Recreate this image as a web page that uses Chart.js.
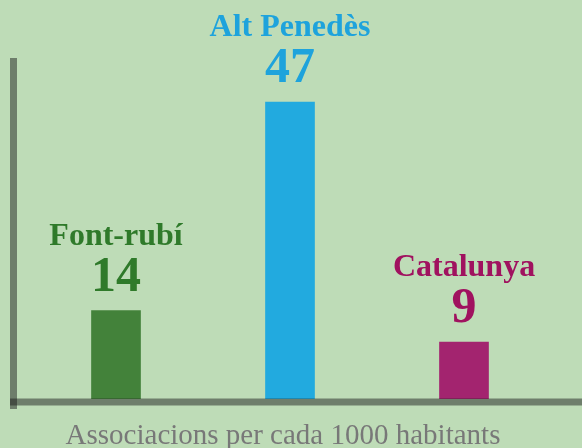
<!DOCTYPE html>
<html>
<head>
<meta charset="utf-8">
<title>Associacions per cada 1000 habitants</title>
<script src="https://cdn.jsdelivr.net/npm/chart.js@4/dist/chart.umd.min.js"></script>
<style>
  html, body { margin: 0; padding: 0; background: #bedcb7; overflow: hidden; }
  canvas { display: block; }
</style>
</head>
<body>
<canvas id="chart" width="582" height="448"></canvas>
<script>
// Chart data
const categories = ['Font-rubí', 'Alt Penedès', 'Catalunya'];
const values = [14, 47, 9];
const barColors = ['#43823a', '#22aadf', '#a3246f'];
const labelColors = ['#2f7a2a', '#1ea3dc', '#a0125f'];
const axisTitle = 'Associacions per cada 1000 habitants';

const serif = "'Liberation Serif', 'DejaVu Serif', serif";

// Thick translucent axis lines
const axisLines = {
  id: 'axisLines',
  afterDatasetsDraw(chart) {
    const { ctx, chartArea } = chart;
    const zeroY = chart.scales.y.getPixelForValue(0);
    const axisX = chartArea.left - 15.5;
    ctx.save();
    ctx.strokeStyle = 'rgba(22, 22, 22, 0.47)';
    ctx.lineWidth = 7;
    ctx.beginPath();
    ctx.moveTo(axisX, chartArea.top);
    ctx.lineTo(axisX, zeroY + 10);
    ctx.stroke();
    ctx.beginPath();
    ctx.moveTo(axisX - 3.5, zeroY + 3);
    ctx.lineTo(chart.width, zeroY + 3);
    ctx.stroke();
    ctx.restore();
  }
};

// Name + value above every bar, and the caption below
const barLabels = {
  id: 'barLabels',
  afterDraw(chart) {
    const { ctx } = chart;
    const meta = chart.getDatasetMeta(0);
    ctx.save();
    ctx.textAlign = 'center';
    ctx.textBaseline = 'alphabetic';
    meta.data.forEach((bar, i) => {
      const numY = bar.y - 20;
      ctx.fillStyle = labelColors[i];
      ctx.font = 'bold 50px ' + serif;
      ctx.fillText(String(values[i]), bar.x, numY);
      ctx.font = 'bold 32px ' + serif;
      ctx.fillText(categories[i], bar.x, numY - 46);
    });
    ctx.fillStyle = '#787878';
    ctx.font = '29px ' + serif;
    ctx.fillText(axisTitle, 283, 444);
    ctx.restore();
  }
};

new Chart(document.getElementById('chart'), {
  type: 'bar',
  data: {
    labels: categories,
    datasets: [{
      data: values,
      backgroundColor: barColors,
      borderWidth: 0,
      barThickness: 49
    }]
  },
  options: {
    responsive: false,
    animation: false,
    layout: {
      padding: { left: 29, right: 31, top: 58, bottom: 49 }
    },
    scales: {
      x: { display: false },
      y: { display: false, min: 0, max: 54 }
    },
    plugins: {
      legend: { display: false },
      tooltip: { enabled: false }
    }
  },
  plugins: [axisLines, barLabels]
});
</script>
</body>
</html>
